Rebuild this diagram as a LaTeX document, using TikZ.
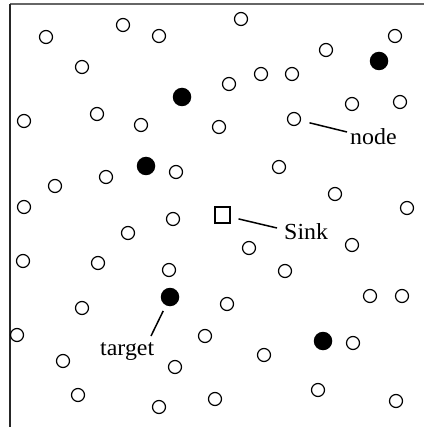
\documentclass[tikz,border=0pt]{standalone}
\usepackage{fontspec}
\setmainfont{Liberation Serif}
\begin{document}
\begin{tikzpicture}[x=1pt,y=-1pt,
  hole/.style={circle,draw=black,line width=1.2pt,fill=white,minimum size=13pt,inner sep=0pt},
  target/.style={circle,fill=black,minimum size=18.5pt,inner sep=0pt},
  sinkbox/.style={rectangle,draw=black,line width=2pt,minimum size=15pt,inner sep=0pt},
  leader/.style={line width=1.5pt},
  lbl/.style={anchor=base west,inner sep=0pt,font=\fontsize{23}{26}\selectfont}]
\useasboundingbox (0,0) rectangle (424,427);
% field border
\draw[line width=1.5pt,color=black!60] (10,4) -- (424,4);
\draw[line width=1.5pt,color=black!85] (10,4) -- (10,427);
% ordinary sensor nodes
\foreach \px/\py [count=\i] in {46/37,123/25,159/36,241/19,82/67,326/50,395/36,229/84,261/74,292/74,
  352/104,400/102,24/121,97/114,141/125,219/127,176/172,106/177,55/186,279/167,24/207,335/194,
  407/208,173/219,128/233,249/248,352/245,23/261,98/263,169/270,285/271,370/296,402/296,227/304,
  82/308,17/335,205/336,63/361,175/367,264/355,353/343,78/395,159/407,215/399,318/390,396/401}
  \node[hole] (c\i) at (\px,\py) {};
\node[hole] (nodeA) at (294,119) {};
% targets
\node[target] (t1) at (182,97) {};
\node[target] (t2) at (379,61) {};
\node[target] (t3) at (146,166) {};
\node[target] (t4) at (170,297) {};
\node[target] (t5) at (323,341) {};
% sink
\node[sinkbox] (sink) at (222,215) {};
% labels
\node[lbl] (lnode) at (350,145) {\scalebox{1.04}[1]{node}};
\node[lbl] (lsink) at (284,239) {\scalebox{1.04}[1]{Sink}};
\node[lbl] (ltarget) at (100,355) {\scalebox{1.04}[1]{target}};
\coordinate (enode) at (347,132);
\coordinate (esink) at (277,228);
\coordinate (etarget) at (151,336);
\draw[leader,shorten <=16pt] (nodeA.center) -- (enode);
\draw[leader,shorten <=17pt] (sink.center) -- (esink);
\draw[leader,shorten <=15.5pt] (t4.center) -- (etarget);
\end{tikzpicture}
\end{document}
